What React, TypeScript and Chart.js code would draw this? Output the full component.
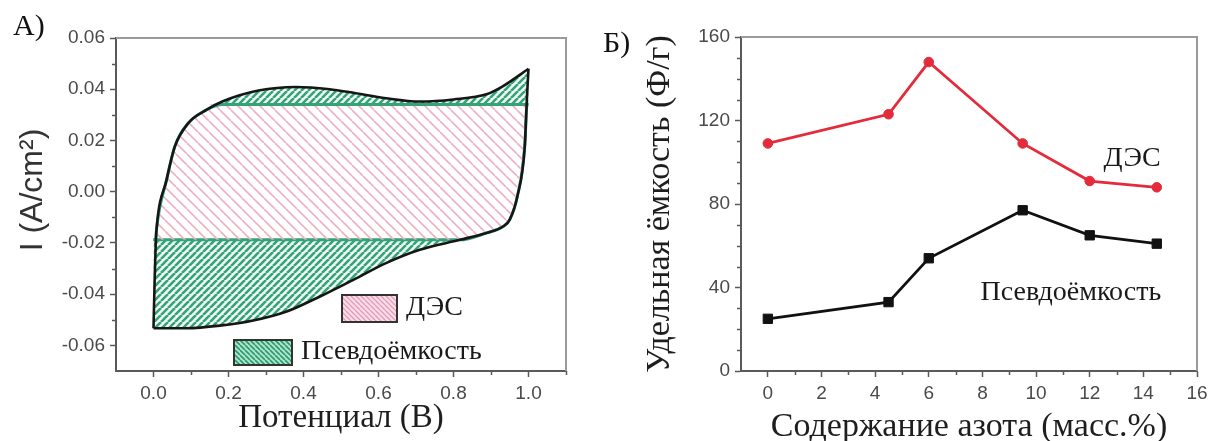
import React, { useEffect, useRef } from 'react';
import { Chart, registerables } from 'chart.js';

Chart.register(...registerables);

// ---------------- Panel A: CV curve (Potential vs current) ----------------
const anodicPotential = [0, 0.003, 0.006, 0.008, 0.035, 0.057, 0.093, 0.142, 0.185, 0.28, 0.38, 0.47, 0.533, 0.62, 0.71, 0.8, 0.888, 0.93, 1.0];
const anodicCurrent = [-0.0533, -0.035, -0.02, -0.0148, 0.0047, 0.0177, 0.0268, 0.032, 0.0353, 0.0395, 0.0409, 0.04, 0.0386, 0.0365, 0.0352, 0.036, 0.038, 0.041, 0.048];
const cathodicPotential = [0, 0.088, 0.177, 0.266, 0.355, 0.444, 0.533, 0.62, 0.71, 0.817, 0.888, 0.932, 0.95, 0.97, 0.99, 0.996, 1.0];
const cathodicCurrent = [-0.0533, -0.0533, -0.0523, -0.0503, -0.0468, -0.0409, -0.0344, -0.0279, -0.0227, -0.0188, -0.0161, -0.0136, -0.0109, -0.002, 0.0177, 0.0372, 0.048];
const edlBandTop = 0.034;
const edlBandBottom = -0.0188;
const potentialTicks = [0, 0.2, 0.4, 0.6, 0.8, 1.0];
const potentialMinorTicks = [0.1, 0.3, 0.5, 0.7, 0.9, 1.1];
const currentTicks = [-0.06, -0.04, -0.02, 0, 0.02, 0.04, 0.06];
const currentMinorTicks = [-0.05, -0.03, -0.01, 0.01, 0.03, 0.05];
const legendLabelsA = ['ДЭС', 'Псевдоёмкость'];

// ---------------- Panel B: capacitance vs nitrogen content ----------------
const nitrogenContent = [0, 4.5, 6, 9.5, 12, 14.5];
const edlCapacitance = [109, 123, 148, 109, 91, 88];
const pseudoCapacitance = [25, 33, 54, 77, 65, 61];
const nitrogenTicks = [0, 2, 4, 6, 8, 10, 12, 14, 16];
const nitrogenMinorTicks = [1, 3, 5, 7, 9, 11, 13, 15];
const capacitanceTicks = [0, 40, 80, 120, 160];
const capacitanceMinorTicks = [10, 20, 30, 50, 60, 70, 90, 100, 110, 130, 140, 150];
const seriesLabelsB = ['ДЭС', 'Псевдоёмкость'];

const SERIF = '"Liberation Serif", "Times New Roman", serif';
const SANS = '"Liberation Sans", Arial, sans-serif';
const GREEN = '#35a377';
const PINK = '#efb0c4';
const RED = '#e32b3b';
const AXIS = '#5a5a5a';
const FRAME = '#9a9a9a';
const TICK_TEXT = '#4a4a4a';

function hatch(size: number, dir: '/' | '\\', stroke: string, lw: number, bg?: string): CanvasPattern {
  const c = document.createElement('canvas');
  c.width = size;
  c.height = size;
  const g = c.getContext('2d')!;
  if (bg) {
    g.fillStyle = bg;
    g.fillRect(0, 0, size, size);
  }
  g.strokeStyle = stroke;
  g.lineWidth = lw;
  g.beginPath();
  for (let k = -1; k <= 1; k++) {
    if (dir === '/') {
      g.moveTo(k * size, size);
      g.lineTo(k * size + size, 0);
    } else {
      g.moveTo(k * size, 0);
      g.lineTo(k * size + size, size);
    }
  }
  g.stroke();
  return g.createPattern(c, 'repeat')!;
}

const clamp = (v: number, lo: number, hi: number) => Math.min(hi, Math.max(lo, v));
const pts = (xs: number[], ys: number[]) => xs.map((x, i) => ({ x, y: ys[i] }));

const extrasPlugin = {
  id: 'extras',
  afterDraw(chart: any, _args: any, o: any) {
    const { ctx, chartArea: a, scales } = chart;
    const sx = scales.x;
    const sy = scales.y;
    ctx.save();
    // top / right frame
    ctx.strokeStyle = FRAME;
    ctx.lineWidth = 2;
    ctx.beginPath();
    ctx.moveTo(a.left, a.top);
    ctx.lineTo(a.right, a.top);
    ctx.lineTo(a.right, a.bottom);
    ctx.stroke();
    // minor ticks
    ctx.strokeStyle = AXIS;
    ctx.lineWidth = 1.5;
    ctx.beginPath();
    (o.minorX || []).forEach((v: number) => {
      const p = Math.round(sx.getPixelForValue(v)) + 0.5;
      ctx.moveTo(p, a.bottom);
      ctx.lineTo(p, a.bottom + 4);
    });
    (o.minorY || []).forEach((v: number) => {
      const p = Math.round(sy.getPixelForValue(v)) + 0.5;
      ctx.moveTo(a.left, p);
      ctx.lineTo(a.left - 4, p);
    });
    ctx.stroke();
    // legend boxes
    (o.boxes || []).forEach((b: any) => {
      ctx.fillStyle = b.pattern;
      ctx.fillRect(b.x, b.y, b.w, b.h);
      ctx.strokeStyle = '#333';
      ctx.lineWidth = 2;
      ctx.strokeRect(b.x, b.y, b.w, b.h);
    });
    // texts
    (o.texts || []).forEach((t: any) => {
      ctx.save();
      ctx.font = t.font;
      ctx.fillStyle = t.color || '#111';
      ctx.textAlign = t.align || 'left';
      ctx.textBaseline = 'middle';
      let px = t.x;
      let py = t.y;
      if (t.data) {
        px = sx.getPixelForValue(t.x);
        py = sy.getPixelForValue(t.y);
      }
      ctx.translate(px, py);
      if (t.rotate) ctx.rotate(t.rotate);
      ctx.fillText(t.text, 0, 0);
      ctx.restore();
    });
    ctx.restore();
  },
};

const tickFont = { family: SANS, size: 19 };

function axisCommon(ticks: number[], fmt: (v: number) => string) {
  return {
    type: 'linear' as const,
    afterBuildTicks: (s: any) => {
      s.ticks = ticks.map((v) => ({ value: v }));
    },
    ticks: { font: tickFont, color: TICK_TEXT, padding: 5, callback: (v: any) => fmt(Number(v)) },
    grid: { drawOnChartArea: false, drawTicks: true, tickLength: 6, color: AXIS, tickWidth: 1.5 },
    border: { color: AXIS, width: 2 },
  };
}

export default function App() {
  const refA = useRef<HTMLCanvasElement>(null);
  const refB = useRef<HTMLCanvasElement>(null);

  useEffect(() => {
    const pinkFill = hatch(11, '\\', PINK, 1.6);
    const greenFill = hatch(7, '/', GREEN, 2.6, '#effaf5');
    const pinkBox = hatch(5, '\\', '#e49ab7', 1.3, '#f9dde8');
    const greenBox = hatch(5, '\\', '#2c9a6e', 1.6, '#aee6cd');

    const common = { pointRadius: 0, cubicInterpolationMode: 'monotone' as const };

    const chartA = new Chart(refA.current!, {
      type: 'line',
      data: {
        datasets: [
          { label: 'anodic', data: pts(anodicPotential, anodicCurrent), borderColor: '#161616', borderWidth: 2.6, fill: false, ...common },
          { label: 'cathodic', data: pts(cathodicPotential, cathodicCurrent), borderColor: '#161616', borderWidth: 2.6, fill: false, ...common },
          {
            label: legendLabelsA[0],
            data: pts(anodicPotential, anodicCurrent.map((v) => clamp(v, edlBandBottom, edlBandTop))),
            borderColor: GREEN, borderWidth: 3, fill: '+1', backgroundColor: pinkFill, ...common,
          },
          {
            label: legendLabelsA[0] + ' (низ)',
            data: pts(cathodicPotential, cathodicCurrent.map((v) => clamp(v, edlBandBottom, edlBandTop))),
            borderColor: GREEN, borderWidth: 3, fill: false, ...common,
          },
          {
            label: legendLabelsA[1],
            data: pts(anodicPotential, anodicCurrent.map((v) => Math.max(v, edlBandTop))),
            borderColor: 'rgba(0,0,0,0)', borderWidth: 0, fill: { value: edlBandTop }, backgroundColor: greenFill, ...common,
          },
          {
            label: legendLabelsA[1] + ' (низ)',
            data: pts(cathodicPotential, cathodicCurrent.map((v) => Math.min(v, edlBandBottom))),
            borderColor: 'rgba(0,0,0,0)', borderWidth: 0, fill: { value: edlBandBottom }, backgroundColor: greenFill, ...common,
          },
        ],
      },
      options: {
        responsive: false,
        animation: false,
        events: [],
        layout: { padding: { top: 38, right: 24, left: 0, bottom: 0 } },
        plugins: {
          legend: { display: false },
          tooltip: { enabled: false },
          extras: {
            minorX: potentialMinorTicks,
            minorY: currentMinorTicks,
            boxes: [
              { x: 342, y: 295, w: 55, h: 27, pattern: pinkBox },
              { x: 234, y: 340, w: 58, h: 25, pattern: greenBox },
            ],
            texts: [
              { text: 'I (A/cm²)', x: 33, y: 190, font: `32px ${SANS}`, color: '#333', align: 'center', rotate: -Math.PI / 2 },
              { text: legendLabelsA[0], x: 406, y: 308, font: `28px ${SERIF}`, color: '#1a1a1a' },
              { text: legendLabelsA[1], x: 301, y: 352, font: `28px ${SERIF}`, color: '#1a1a1a' },
            ],
          },
        } as any,
        scales: {
          x: {
            ...axisCommon(potentialTicks, (v) => v.toFixed(1)),
            min: -0.1,
            max: 1.1,
            afterFit: (s: any) => { s.height = 70; },
            title: { display: true, text: 'Потенциал (В)', color: '#1e1e1e', font: { family: SERIF, size: 33, lineHeight: 1.2 }, padding: { top: 0, bottom: 3 } },
          },
          y: {
            ...axisCommon(currentTicks, (v) => v.toFixed(2)),
            min: -0.07,
            max: 0.06,
            afterFit: (s: any) => { s.width = 116; },
            title: { display: false },
          },
        },
      } as any,
      plugins: [extrasPlugin],
    });

    const chartB = new Chart(refB.current!, {
      type: 'line',
      data: {
        datasets: [
          {
            label: seriesLabelsB[0],
            data: pts(nitrogenContent, edlCapacitance),
            borderColor: RED, backgroundColor: RED, borderWidth: 2.8,
            pointStyle: 'circle', pointRadius: 4.8, pointBorderWidth: 1, tension: 0,
          },
          {
            label: seriesLabelsB[1],
            data: pts(nitrogenContent, pseudoCapacitance),
            borderColor: '#111', backgroundColor: '#111', borderWidth: 2.8,
            pointStyle: 'rect', pointRadius: 6.6, pointBorderWidth: 1, tension: 0,
          },
        ],
      },
      options: {
        responsive: false,
        animation: false,
        events: [],
        layout: { padding: { top: 37, right: 23, left: 0, bottom: 0 } },
        plugins: {
          legend: { display: false },
          tooltip: { enabled: false },
          extras: {
            minorX: nitrogenMinorTicks,
            minorY: capacitanceMinorTicks,
            texts: [
              { text: seriesLabelsB[0], x: 13.58, y: 101.6, data: true, font: `28px ${SERIF}`, color: '#1a1a1a', align: 'center' },
              { text: seriesLabelsB[1], x: 11.3, y: 37.6, data: true, font: `28px ${SERIF}`, color: '#1a1a1a', align: 'center' },
            ],
          },
        } as any,
        scales: {
          x: {
            ...axisCommon(nitrogenTicks, (v) => String(v)),
            min: -1,
            max: 16,
            afterFit: (s: any) => { s.height = 70; },
            title: { display: true, text: 'Содержание азота (масс.%)', color: '#1e1e1e', font: { family: SERIF, size: 34, lineHeight: 0.7 }, padding: { top: 0, bottom: 2 } },
          },
          y: {
            ...axisCommon(capacitanceTicks, (v) => String(v)),
            min: 0,
            max: 160,
            afterFit: (s: any) => { s.width = 141; },
            title: { display: true, text: 'Удельная ёмкость (Ф/г)', color: '#1e1e1e', font: { family: SERIF, size: 34, lineHeight: 1.2 }, padding: { top: 40, bottom: 0 } },
          },
        },
      } as any,
      plugins: [extrasPlugin],
    });

    return () => {
      chartA.destroy();
      chartB.destroy();
    };
  }, []);

  const labelStyle: React.CSSProperties = {
    position: 'absolute',
    font: `30px ${SERIF}`,
    lineHeight: '30px',
    color: '#111',
    whiteSpace: 'nowrap',
  };

  return (
    <div style={{ position: 'fixed', left: 0, top: 0, width: 1208, height: 441, overflow: 'hidden', background: '#fff' }}>
      <canvas ref={refA} width={590} height={441} style={{ position: 'absolute', left: 0, top: 0 }} />
      <canvas ref={refB} width={620} height={441} style={{ position: 'absolute', left: 600, top: 0 }} />
      <div style={{ ...labelStyle, left: 13, top: 10 }}>А)</div>
      <div style={{ ...labelStyle, left: 603, top: 27 }}>Б)</div>
    </div>
  );
}
